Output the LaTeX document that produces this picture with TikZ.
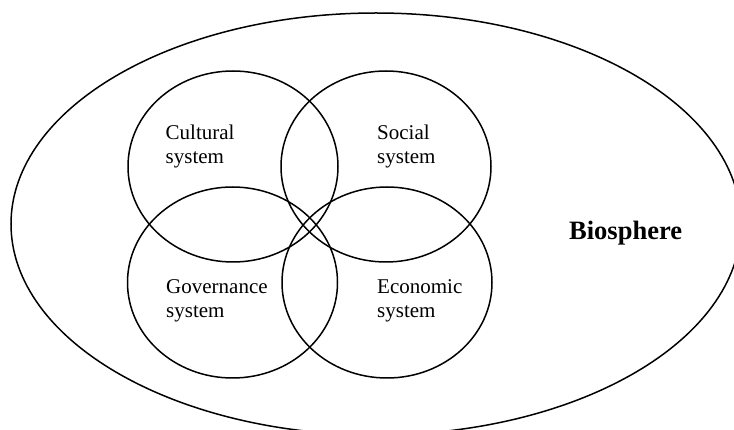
\documentclass[tikz,border=0pt]{standalone}
\usepackage{fontspec}
\setmainfont{Liberation Serif}
\usetikzlibrary{shapes.geometric}
\begin{document}
\begin{tikzpicture}[x=1pt, y=-1pt,
  ring/.style={draw, ellipse, line width=1.5pt, inner sep=0pt},
  sysring/.style={ring, minimum width=210pt, minimum height=191pt},
  label/.style={anchor=base west, inner sep=0pt, align=left,
    font=\fontsize{21}{24.5}\selectfont}]
  \useasboundingbox (0,0) rectangle (734,430);
  \clip (0,0) rectangle (734,430);
  % the biosphere enclosing the four systems
  \node[ring, minimum width=730pt, minimum height=422pt] (bio) at (376,224) {};
  % four overlapping systems
  \node[sysring] (cult) at (233,166.5) {};
  \node[sysring] (soc)  at (386,166.5) {};
  \node[sysring] (gov)  at (232.5,282.5) {};
  \node[sysring] (eco)  at (387,282.5) {};
  % labels (base anchor sits on the second line)
  \node[label] (cultT) at (165.5,164) {Cultural\\system};
  \node[label] (socT)  at (377,164) {Social\\system};
  \node[label] (govT)  at (166,318) {Governance\\system};
  \node[label] (ecoT)  at (377,318) {Economic\\system};
  \node[anchor=base west, inner sep=0pt, font=\fontsize{26.5}{30}\selectfont\bfseries] (bioT) at (569,240) {Biosphere};
\end{tikzpicture}
\end{document}
